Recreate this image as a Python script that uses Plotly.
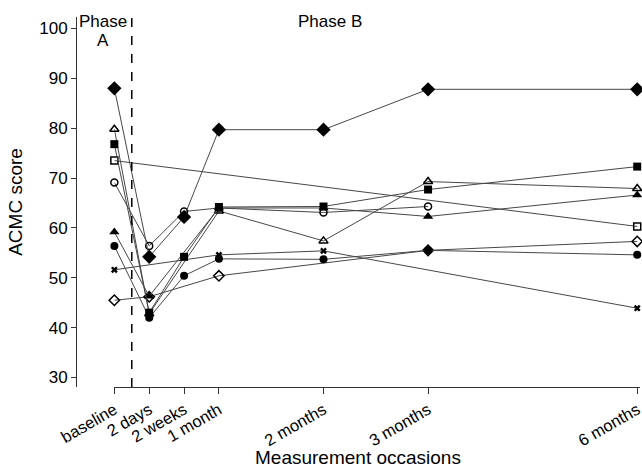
import plotly.graph_objects as go

# x positions (time scale units) and labels
tick_pos = [0, 1, 2, 3, 6, 9, 15]
tick_labels = ["baseline", "2 days", "2 weeks", "1 month", "2 months", "3 months", "6 months"]

# series: x positions and ACMC scores
s_fdiam_x = [0, 1, 2, 3, 6, 9, 15]
s_fdiam_y = [88.0, 54.2, 62.2, 79.7, 79.7, 87.8, 87.8]

s_otri_x = [0, 1, 3, 6, 9, 15]
s_otri_y = [79.8, 42.8, 63.4, 57.4, 69.3, 67.9]

s_fsq_x = [0, 1, 2, 3, 6, 9, 15]
s_fsq_y = [76.8, 43.0, 54.2, 64.2, 64.3, 67.7, 72.3]

s_osq_x = [0, 15]
s_osq_y = [73.5, 60.3]

s_ocirc_x = [0, 1, 2, 3, 6, 9]
s_ocirc_y = [69.1, 56.4, 63.3, 64.0, 63.1, 64.3]

s_ftri_x = [0, 1, 3, 6, 9, 15]
s_ftri_y = [59.2, 46.3, 64.0, 64.0, 62.3, 66.6]

s_fcirc_x = [0, 1, 2, 3, 6, 9, 15]
s_fcirc_y = [56.4, 42.0, 50.4, 53.8, 53.7, 55.5, 54.6]

s_x_x = [0, 3, 6, 15]
s_x_y = [51.6, 54.6, 55.4, 43.9]

s_odiam_x = [0, 1, 3, 9, 15]
s_odiam_y = [45.5, 46.2, 50.4, 55.5, 57.3]

LINE = "#474747"
FONT = "Liberation Sans"

series = [
    (s_osq_x, s_osq_y, "square-open", 7),
    (s_ocirc_x, s_ocirc_y, "circle-open", 7),
    (s_otri_x, s_otri_y, "triangle-up-open", 8),
    (s_odiam_x, s_odiam_y, "diamond-open", 8),
    (s_x_x, s_x_y, "x", 6),
    (s_fcirc_x, s_fcirc_y, "circle", 8),
    (s_ftri_x, s_ftri_y, "triangle-up", 9),
    (s_fsq_x, s_fsq_y, "square", 8),
    (s_fdiam_x, s_fdiam_y, "diamond", 11),
]

fig = go.Figure()
for xs, ys, sym, size in series:
    fig.add_trace(go.Scatter(
        x=xs, y=ys, mode="lines+markers",
        line=dict(color=LINE, width=1),
        marker=dict(symbol=sym, size=size, color="black",
                    line=dict(color="black", width=1.5 if "open" in sym else 0)),
        cliponaxis=False, showlegend=False,
    ))

fig.add_shape(type="line", x0=0.5, x1=0.5, xref="x", y0=0, y1=1, yref="paper",
              line=dict(color="black", width=1.5, dash="dash"))

# plot area spans x pixels 76..640 (564 px)
def px(xp):
    return (xp - 76) / 564

txt = dict(family=FONT, size=17, color="black")
fig.add_annotation(x=px(103), xref="paper", xanchor="center", y=1, yref="paper",
                   yanchor="middle", yshift=-4, text="Phase", showarrow=False, font=txt)
fig.add_annotation(x=px(103), xref="paper", xanchor="center", y=1, yref="paper",
                   yanchor="middle", yshift=-23, text="A", showarrow=False, font=txt)
fig.add_annotation(x=px(330), xref="paper", xanchor="center", y=1, yref="paper",
                   yanchor="middle", yshift=-4, text="Phase B", showarrow=False, font=txt)
fig.add_annotation(x=px(358), xref="paper", xanchor="center", y=0, yref="paper",
                   yanchor="middle", yshift=-70, text="Measurement occasions", showarrow=False,
                   font=dict(family=FONT, size=19, color="black"))

fig.update_layout(
    width=642, height=470,
    margin=dict(l=76, r=2, t=17, b=83, autoexpand=False),
    plot_bgcolor="white", paper_bgcolor="white",
    font=dict(family=FONT, color="black"),
    xaxis=dict(
        domain=[0.068, 1], range=[0, 15.08], automargin=False,
        tickmode="array", tickvals=tick_pos, ticktext=tick_labels,
        tickangle=-30, tickfont=dict(size=16.5, color="black"),
        ticklabeloverflow="allow",
        showgrid=False, zeroline=False,
        showline=True, linecolor="#333333", linewidth=1,
        ticks="outside", ticklen=6, tickcolor="#333333",
    ),
    yaxis=dict(
        anchor="free", position=0, automargin=False,
        range=[28.1, 102.3],
        tickvals=[30, 40, 50, 60, 70, 80, 90, 100],
        tickfont=dict(size=17, color="black"),
        showgrid=False, zeroline=False,
        showline=True, linecolor="#333333", linewidth=1,
        ticks="outside", ticklen=5, tickcolor="#333333",
        title=dict(text="ACMC score", font=dict(size=19, color="black"), standoff=10),
    ),
)

fig.write_html("out.html", config={"displayModeBar": False},
               post_script="document.body.style.margin='0';")
